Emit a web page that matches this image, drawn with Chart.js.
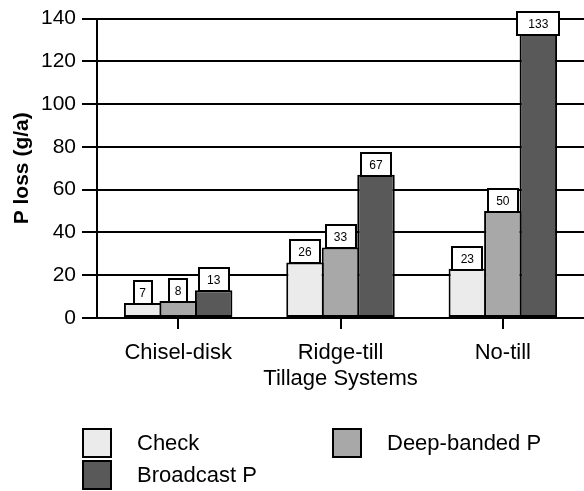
<!DOCTYPE html>
<html>
<head>
<meta charset="utf-8">
<script src="https://cdn.jsdelivr.net/npm/chart.js@4"></script>
<style>
html,body{margin:0;padding:0;background:#fff;}
#wrap{width:584px;height:491px;position:relative;}
</style>
</head>
<body>
<div id="wrap"><canvas id="c" width="584" height="491"></canvas></div>
<script>
const categories = ['Chisel-disk', 'Ridge-till', 'No-till'];
const seriesNames = ['Check', 'Deep-banded P', 'Broadcast P'];
const checkValues = [7, 26, 23];
const deepBandedValues = [8, 33, 50];
const broadcastValues = [13, 67, 133];
const yTicks = [0, 20, 40, 60, 80, 100, 120, 140];
const yTitle = 'P loss (g/a)';
const xTitle = 'Tillage Systems';

const colors = ['#ebebeb', '#a8a8a8', '#595959'];
const FONT = "'Liberation Sans', Arial, Helvetica, sans-serif";

const valueBoxes = {
  id: 'valueBoxes',
  afterDatasetsDraw(chart) {
    const ctx = chart.ctx;
    ctx.save();
    ctx.font = "12px 'Liberation Sans Narrow', 'Arial Narrow', " + FONT;
    ctx.textAlign = 'center';
    ctx.textBaseline = 'middle';
    chart.data.datasets.forEach((ds, di) => {
      const meta = chart.getDatasetMeta(di);
      meta.data.forEach((bar, i) => {
        const txt = String(ds.data[i]);
        const tw = ctx.measureText(txt).width;
        const w = Math.round(tw * 1.8 + 6);
        const h = 23;
        const x = Math.round(bar.x - w / 2);
        const y = Math.round(bar.y + 1 - h);
        ctx.fillStyle = '#fff';
        ctx.fillRect(x, y, w, h);
        ctx.lineWidth = 2;
        ctx.strokeStyle = '#000';
        ctx.strokeRect(x, y, w, h);
        ctx.fillStyle = '#000';
        ctx.fillText(txt, bar.x, y + h / 2 + 1);
      });
    });
    ctx.restore();
  }
};

const customLegend = {
  id: 'customLegend',
  afterDraw(chart) {
    const ctx = chart.ctx;
    const slots = [[83, 429], [333, 429], [83, 461]];
    ctx.save();
    ctx.font = '22px ' + FONT;
    ctx.textBaseline = 'middle';
    ctx.textAlign = 'left';
    chart.data.datasets.forEach((ds, i) => {
      const [x, y] = slots[i];
      ctx.fillStyle = ds.backgroundColor;
      ctx.fillRect(x, y, 28, 28);
      ctx.lineWidth = 2;
      ctx.strokeStyle = '#000';
      ctx.strokeRect(x, y, 28, 28);
      ctx.fillStyle = '#000';
      ctx.fillText(ds.label, x + 54, y + 15);
    });
    ctx.restore();
  }
};

const valueSets = [checkValues, deepBandedValues, broadcastValues];

new Chart(document.getElementById('c'), {
  type: 'bar',
  data: {
    labels: categories,
    datasets: seriesNames.map((n, i) => ({
      label: n,
      data: valueSets[i],
      backgroundColor: colors[i],
      borderColor: '#000',
      borderWidth: 2,
      borderSkipped: false,
      categoryPercentage: 0.656,
      barPercentage: 1.056
    }))
  },
  options: {
    responsive: false,
    animation: false,
    devicePixelRatio: 1,
    layout: { padding: { top: 17, right: 0, bottom: 0, left: 0 } },
    plugins: {
      legend: { display: false },
      tooltip: { enabled: false }
    },
    scales: {
      x: {
        grid: { display: true, offset: false, drawOnChartArea: false, drawTicks: true, tickLength: 11, color: '#000', lineWidth: 2 },
        border: { display: true, color: '#000', width: 2 },
        ticks: { color: '#000', font: { family: FONT, size: 22 }, padding: 11, maxRotation: 0 },
        title: { display: true, text: xTitle, color: '#000', font: { family: FONT, size: 22 }, padding: { top: 0, bottom: 99 } },
        afterFit(scale) { scale.height = 173; }
      },
      y: {
        min: 0,
        max: 140,
        afterBuildTicks(scale) { scale.ticks = yTicks.map(v => ({ value: v })); },
        grid: { color: '#000', lineWidth: 2, drawTicks: true, tickLength: 15 },
        border: { display: true, color: '#000', width: 2 },
        ticks: { color: '#000', font: { family: FONT, size: 21 }, padding: 6 },
        title: { display: true, text: yTitle, color: '#000', font: { family: FONT, size: 21, weight: 'bold' }, padding: { top: 10, bottom: 0 } },
        afterFit(scale) { scale.width = 97; }
      }
    }
  },
  plugins: [valueBoxes, customLegend]
});
</script>
</body>
</html>
